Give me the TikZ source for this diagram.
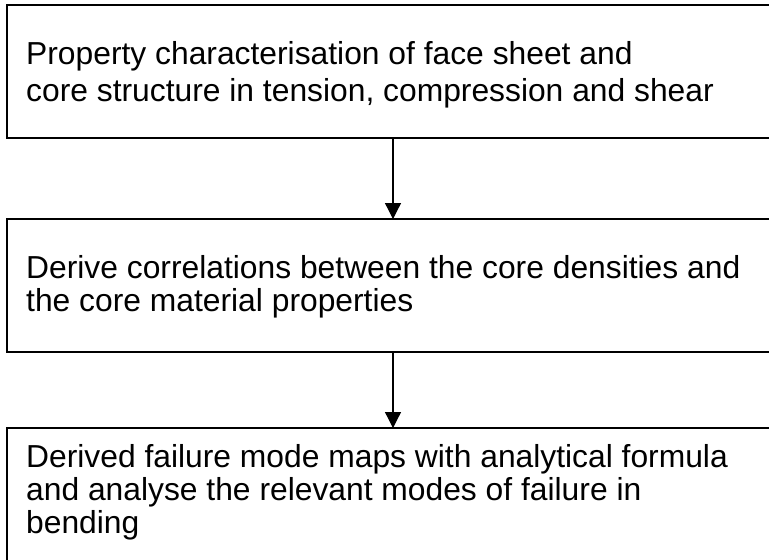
\documentclass[tikz,border=0pt]{standalone}
\usepackage{fontspec}
\setmainfont{Liberation Sans}
\usetikzlibrary{arrows.meta}
\begin{document}
\begin{tikzpicture}[x=1pt,y=-1pt,
  box/.style={draw, line width=1.6pt, rectangle, minimum width=772pt, minimum height=133pt, inner sep=0pt, outer sep=0pt, anchor=north west},
  txt/.style={anchor=base west, align=left, inner sep=0pt},
  link/.style={-{Triangle[width=16pt,length=16pt]}, line width=1.3pt}]
\useasboundingbox (0,0) rectangle (769,560);
\clip (0,0) rectangle (769,560);
\fill[white] (0,0) rectangle (769,560);
\node[box] (b1) at (7,5) {};
\node[box] (b2) at (7,219) {};
\node[box] (b3) at (7,428) {};
\node[txt, font=\fontsize{31.8}{37}\selectfont] (t1) at (26,101) {Property characterisation of face sheet and\\core structure in tension, compression and shear};
\node[txt, font=\fontsize{31.8}{33}\selectfont] (t2) at (26,311) {Derive correlations between the core densities and\\the core material properties};
\node[txt, font=\fontsize{31.8}{33}\selectfont] (t3) at (26,533) {Derived failure mode maps with analytical formula\\and analyse the relevant modes of failure in\\bending};
\draw[link] (b1.south) -- (b2.north);
\draw[link] (b2.south) -- (b3.north);
\end{tikzpicture}
\end{document}
